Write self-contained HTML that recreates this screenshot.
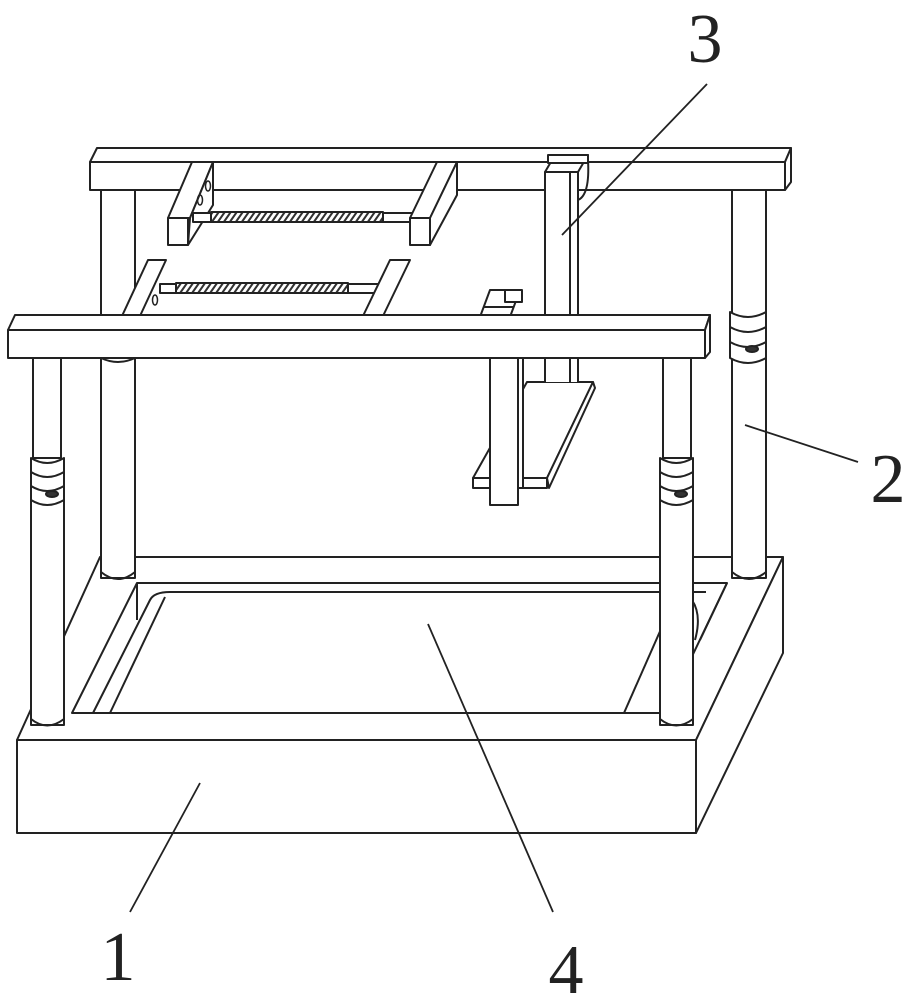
<!DOCTYPE html>
<html><head><meta charset="utf-8"><style>
html,body{margin:0;padding:0;background:#fff;}
svg{display:block}
text{font-family:"Liberation Serif",serif;fill:#222}
</style></head><body>
<svg width="913" height="1000" viewBox="0 0 913 1000" xmlns="http://www.w3.org/2000/svg">
<defs>
<pattern id="h" width="6" height="10" patternUnits="userSpaceOnUse" patternTransform="skewX(-35)">
<rect width="6" height="10" fill="#fff"/><rect width="2.5" height="10" fill="#333"/>
</pattern>
</defs>
<g fill="#fff" stroke="#222" stroke-width="2" stroke-linejoin="round">

<!-- BASE -->
<polygon points="17,740 100,557 783,557 696,740"/>
<polygon points="696,740 783,557 783,653 696,833"/>
<rect x="17" y="740" width="679" height="93"/>
<!-- recess -->
<polygon points="72,713 137,583 727,583 665,713"/>
<line x1="170" y1="592" x2="706" y2="592"/>
<path d="M93,713 L150,600 Q154,592 170,592" fill="none"/>
<line x1="110" y1="713" x2="165" y2="597"/>
<line x1="137" y1="583" x2="137" y2="620"/>
<line x1="624" y1="713" x2="665" y2="620"/>
<path d="M727,583 L700,640" fill="none"/>
<path d="M692,600 Q702,615 695,640" fill="none"/>

<!-- BACK POSTS -->
<rect x="101" y="188" width="34" height="390"/>
<path d="M101,572 Q118,586 135,572" fill="none"/>
<rect x="732" y="188" width="34" height="390"/>
<path d="M732,572 Q749,586 766,572" fill="none"/>
<!-- back-right clamp -->
<path d="M730,312 Q748,322 766,312 L766,358 Q748,368 730,358 Z"/>
<path d="M730,327 Q748,337 766,327 M730,342 Q748,352 766,342" fill="none"/>
<ellipse cx="752" cy="349" rx="6" ry="3" fill="#333"/>

<!-- BACK BEAM -->
<polygon points="90,162 97,148 791,148 785,162"/>
<rect x="90" y="162" width="695" height="28"/>
<polygon points="785,162 791,148 791,182 785,190"/>

<!-- Column 3 (top vertical) -->
<rect x="545" y="172" width="25" height="210"/>
<rect x="570" y="172" width="8" height="210"/>
<polygon points="545,172 555,155 588,155 578,172"/>
<rect x="548" y="155" width="40" height="8"/>
<path d="M578,190 L578,200 Q590,195 588,160" fill="none"/>

<!-- Plate -->
<polygon points="473,478 527,382 593,382 547,478"/>
<polygon points="473,478 547,478 547,488 473,488"/>
<polygon points="547,478 593,382 595,388 549,488"/>

<!-- Upper bracket pair -->
<polygon points="168,218 190,218 213,162 192,162"/>
<polygon points="190,218 213,162 213,205 188,245"/>
<rect x="168" y="218" width="20" height="27"/>
<ellipse cx="200" cy="200" rx="2.5" ry="5" fill="none" stroke-width="1.5"/>
<ellipse cx="208" cy="186" rx="2.5" ry="5" fill="none" stroke-width="1.5"/>
<rect x="193" y="213" width="20" height="9"/>
<rect x="211" y="212" width="172" height="10" fill="url(#h)"/>
<rect x="383" y="213" width="30" height="9"/>
<polygon points="410,218 430,218 457,162 437,162"/>
<polygon points="430,218 457,162 457,195 430,245"/>
<rect x="410" y="218" width="20" height="27"/>

<!-- Lower bracket pair -->
<polygon points="122,316 140,316 166,260 148,260"/>
<ellipse cx="155" cy="300" rx="2.5" ry="5" fill="none" stroke-width="1.5"/>
<rect x="160" y="284" width="18" height="9"/>
<rect x="176" y="283" width="172" height="10" fill="url(#h)"/>
<rect x="348" y="284" width="32" height="9"/>
<polygon points="363,316 383,316 410,260 390,260"/>

<!-- Small block on front beam -->
<polygon points="477,325 490,290 520,290 507,325"/>
<line x1="484" y1="307" x2="514" y2="307"/>
<rect x="505" y="290" width="17" height="12"/>

<!-- FRONT POSTS -->
<rect x="33" y="358" width="28" height="100"/>
<rect x="31" y="500" width="33" height="225"/>
<path d="M31,719 Q47,732 64,719" fill="none"/>
<path d="M31,458 Q47,468 64,458 L64,500 Q47,510 31,500 Z"/>
<path d="M31,472 Q47,482 64,472 M31,486 Q47,496 64,486" fill="none"/>
<ellipse cx="52" cy="494" rx="6" ry="3" fill="#333"/>

<rect x="663" y="358" width="28" height="100"/>
<rect x="660" y="500" width="33" height="225"/>
<path d="M660,719 Q676,732 693,719" fill="none"/>
<path d="M660,458 Q676,468 693,458 L693,500 Q676,510 660,500 Z"/>
<path d="M660,472 Q676,482 693,472 M660,486 Q676,496 693,486" fill="none"/>
<ellipse cx="681" cy="494" rx="6" ry="3" fill="#333"/>

<!-- lower vertical bar of column -->
<rect x="490" y="358" width="28" height="147"/>
<rect x="518" y="358" width="5" height="130"/>
<rect x="545" y="358" width="33" height="24" stroke="none"/>
<line x1="545" y1="358" x2="545" y2="382"/><line x1="570" y1="358" x2="570" y2="382"/><line x1="578" y1="358" x2="578" y2="382"/>

<!-- FRONT BEAM -->
<polygon points="8,330 15,315 710,315 705,330"/>
<rect x="8" y="330" width="697" height="28"/>
<polygon points="705,330 710,315 710,352 705,358"/>
<path d="M101,358 Q118,366 135,358" fill="none"/>
</g>

<!-- leaders -->
<g stroke="#222" stroke-width="1.8" fill="none">
<line x1="707" y1="84" x2="562" y2="235"/>
<line x1="858" y1="462" x2="745" y2="425"/>
<line x1="200" y1="783" x2="130" y2="912"/>
<line x1="428" y1="624" x2="553" y2="912"/>
</g>
<text x="705" y="62" font-size="70" text-anchor="middle">3</text>
<text x="888" y="502" font-size="70" text-anchor="middle">2</text>
<text x="118" y="980" font-size="70" text-anchor="middle">1</text>
<text x="566" y="993" font-size="70" text-anchor="middle">4</text>
</svg>
</body></html>
